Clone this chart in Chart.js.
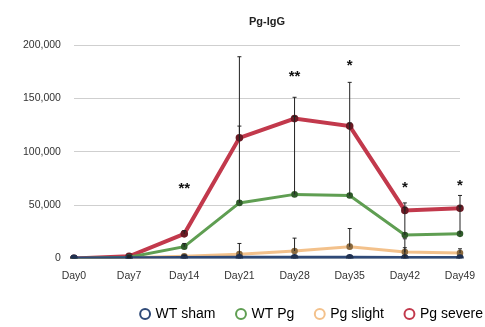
<!DOCTYPE html>
<html>
<head>
<meta charset="utf-8">
<script src="https://cdn.jsdelivr.net/npm/chart.js@4/dist/chart.umd.min.js"></script>
<style>
  html, body { margin: 0; padding: 0; background: #fff; }
  #wrap { width: 485px; height: 327px; }
</style>
</head>
<body>
<div id="wrap"><canvas id="igg"></canvas></div>
<script>
// chart data
const days = ["Day0", "Day7", "Day14", "Day21", "Day28", "Day35", "Day42", "Day49"];
const wtSham = [0, 200, 300, 500, 500, 500, 400, 400];
const wtPg = [0, 1000, 11000, 52000, 60000, 59000, 22000, 23000];
const pgSlight = [0, 500, 2000, 4000, 7000, 11000, 6000, 5000];
const pgSevere = [0, 2000, 23000, 113000, 131000, 124000, 45000, 47000];

// upper error bars (SD)
const wtShamErr = [0, 0, 0, 0, 0, 0, 18000, 0];
const wtPgErr = [0, 500, 3000, 72000, 73000, 68000, 26000, 26000];
const pgSlightErr = [0, 300, 1000, 10000, 12000, 17000, 4000, 4000];
const pgSevereErr = [0, 500, 3000, 76000, 20000, 41000, 7000, 12000];

// significance marks
const sigMarks = ["", "", "**", "", "**", "*", "*", "*"];
const sigLevel = [null, null, 69000, null, 174000, 184000, 70000, 72000];

const yTicks = [0, 50000, 100000, 150000, 200000];

const FONT = "'Liberation Sans', Arial, sans-serif";

// error bars drawn through the y scale
const errorBars = {
  id: "errorBars",
  afterDatasetsDraw(chart) {
    const { ctx, scales } = chart;
    ctx.save();
    ctx.strokeStyle = "#222";
    ctx.lineWidth = 1;
    chart.data.datasets.forEach((ds, i) => {
      const meta = chart.getDatasetMeta(i);
      meta.data.forEach((pt, j) => {
        const e = ds.err[j];
        if (!e) return;
        const y0 = scales.y.getPixelForValue(ds.data[j]);
        const y1 = scales.y.getPixelForValue(ds.data[j] + e);
        ctx.beginPath();
        ctx.moveTo(pt.x, y0);
        ctx.lineTo(pt.x, y1);
        ctx.moveTo(pt.x - 2, y1);
        ctx.lineTo(pt.x + 2, y1);
        ctx.stroke();
      });
    });
    // stars
    ctx.fillStyle = "#111";
    ctx.font = "bold 15px " + FONT;
    ctx.textAlign = "center";
    ctx.textBaseline = "middle";
    sigMarks.forEach((m, j) => {
      if (!m) return;
      const x = scales.x.getPixelForValue(j);
      const y = scales.y.getPixelForValue(sigLevel[j]);
      ctx.fillText(m, x, y + 4);
    });
    // title over the plot area
    ctx.font = "bold 11px " + FONT;
    ctx.fillStyle = "#222";
    ctx.fillText("Pg-IgG", (chart.chartArea.left + chart.chartArea.right) / 2, 22);
    ctx.restore();
  },
};

function line(label, data, err, color, dot, width) {
  return {
    label: label,
    data: data,
    err: err,
    borderColor: color,
    backgroundColor: color,
    borderWidth: width,
    pointRadius: 1.8,
    pointBackgroundColor: dot,
    pointBorderColor: dot,
    tension: 0,
  };
}

new Chart(document.getElementById("igg"), {
  type: "line",
  data: {
    labels: days,
    datasets: [
      line("WT sham", wtSham, wtShamErr, "#2f4a78", "#1f3050", 4),
      line("WT Pg", wtPg, wtPgErr, "#5f9e52", "#2f5a2a", 3),
      line("Pg slight", pgSlight, pgSlightErr, "rgba(240,178,110,0.8)", "#8a6a40", 3),
      line("Pg severe", pgSevere, pgSevereErr, "#c2394c", "#6a1a24", 4),
    ],
  },
  options: {
    responsive: true,
    maintainAspectRatio: false,
    animation: false,
    layout: { padding: { left: 10, right: -20, top: 45, bottom: -4 } },
    scales: {
      x: {
        offset: false,
        grid: { display: false },
        border: { display: false },
        afterFit: (scale) => {
          scale.paddingRight = 25;
        },
        ticks: { color: "#333", font: { family: FONT, size: 10.5 }, padding: 3, maxRotation: 0 },
      },
      y: {
        min: 0,
        max: 200000,
        afterBuildTicks: (axis) => {
          axis.ticks = yTicks.map((v) => ({ value: v }));
        },
        grid: { color: "#cfcfcf", drawTicks: false },
        border: { display: false },
        ticks: {
          color: "#333",
          padding: 13,
          font: { family: FONT, size: 10.5 },
          callback: (v) => v.toLocaleString("en-US"),
        },
      },
    },
    plugins: {
      title: { display: false },
      tooltip: { enabled: false },
      legend: {
        position: "bottom",
        align: "end",
        labels: {
          usePointStyle: true,
          boxWidth: 7,
          boxHeight: 7,
          padding: 22,
          color: "#333",
          font: { family: FONT, size: 14 },
          generateLabels: (chart) =>
            chart.data.datasets.map((ds, i) => ({
              text: ds.label,
              fillStyle: "#fff",
              strokeStyle: ds.borderColor,
              lineWidth: 2,
              pointStyle: "circle",
              datasetIndex: i,
            })),
        },
      },
    },
  },
  plugins: [errorBars],
});
</script>
</body>
</html>
